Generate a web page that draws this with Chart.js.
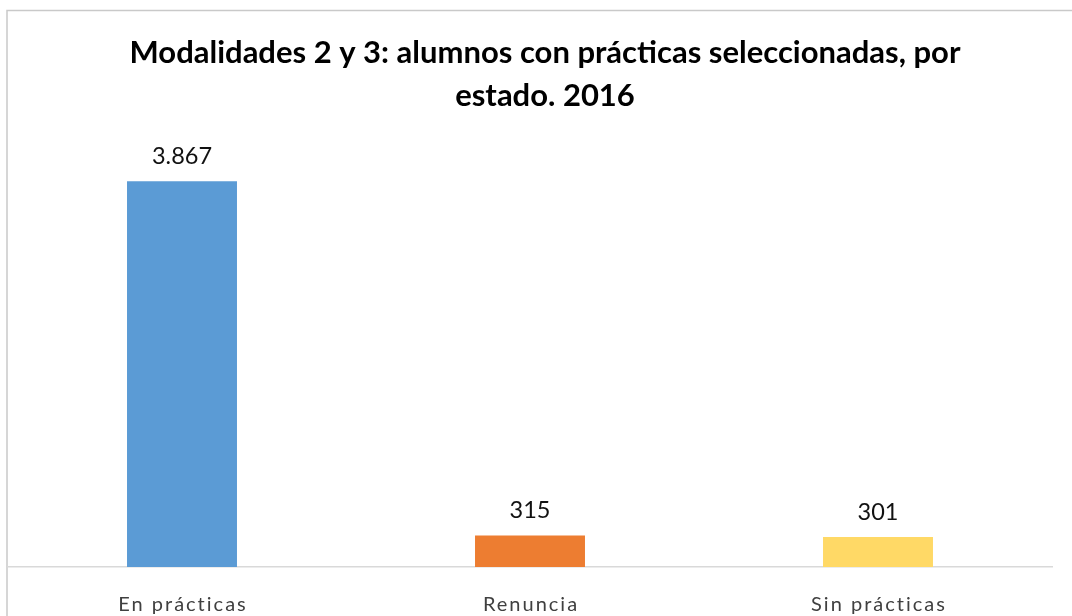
<!DOCTYPE html>
<html>
<head>
<meta charset="utf-8">
<script src="https://cdn.jsdelivr.net/npm/chart.js@4"></script>
<style>
  html, body { margin: 0; padding: 0; background: #fff; }
  #wrap { position: relative; width: 1072px; height: 616px; }
</style>
</head>
<body>
<div id="wrap"><canvas id="chart" width="1072" height="616"></canvas></div>
<script>
// --- data ---
const categories = ["En prácticas", "Renuncia", "Sin prácticas"];
const alumnos = [3867, 315, 301];
const barColors = ["#5B9BD5", "#ED7D31", "#FFD966"];
const titleLines = ["Modalidades 2 y 3: alumnos con prácticas seleccionadas, por", "estado. 2016"];
const yMax = 4500;

const FONT = "Lato, 'Open Sans', sans-serif";

// thousands with a dot, as in the original (es-ES won't group 4 digits)
const fmt = v => String(v).replace(/\B(?=(\d{3})+(?!\d))/g, ".");

// frame, title, value labels and category labels
const decor = {
    id: "decor",
    beforeDraw(chart) {
        const ctx = chart.ctx;
        ctx.save();
        ctx.strokeStyle = "#c9c9c9";
        ctx.lineWidth = 1.5;
        ctx.beginPath();
        ctx.moveTo(7, 640);
        ctx.lineTo(7, 10.5);
        ctx.lineTo(1100, 10.5);
        ctx.stroke();

        ctx.fillStyle = "#000";
        ctx.font = "bold 31px " + FONT;
        ctx.textAlign = "center";
        ctx.textBaseline = "middle";
        ctx.fillText(titleLines[0], 545, 53);
        ctx.fillText(titleLines[1], 545, 96);
        ctx.restore();
    },
    afterDatasetsDraw(chart) {
        const ctx = chart.ctx;
        const meta = chart.getDatasetMeta(0);
        const xScale = chart.scales.x;
        ctx.save();
        ctx.textAlign = "center";
        ctx.textBaseline = "middle";
        ctx.fillStyle = "#111";
        ctx.font = "23.5px " + FONT;
        meta.data.forEach((bar, i) => {
            ctx.fillText(fmt(alumnos[i]), bar.x, bar.y - 25);
        });
        ctx.fillStyle = "#404040";
        ctx.font = "20px " + FONT;
        ctx.letterSpacing = "2px";
        categories.forEach((c, i) => {
            ctx.fillText(c, xScale.getPixelForValue(i) + 1, 605);
        });
        ctx.restore();
    }
};

new Chart(document.getElementById("chart"), {
    type: "bar",
    data: {
        labels: categories,
        datasets: [{
            data: alumnos,
            backgroundColor: barColors,
            borderWidth: 0,
            categoryPercentage: 1,
            barPercentage: 0.316
        }]
    },
    options: {
        responsive: false,
        animation: false,
        devicePixelRatio: 1,
        layout: { padding: { top: 118, left: 8, right: 20, bottom: 41 } },
        plugins: {
            legend: { display: false },
            title: { display: false },
            tooltip: { enabled: false }
        },
        scales: {
            x: {
                grid: { display: false },
                border: { display: true, color: "#d9d9d9", width: 1.5 },
                ticks: { display: false }
            },
            y: {
                display: false,
                min: 0,
                max: yMax
            }
        }
    },
    plugins: [decor]
});
</script>
</body>
</html>
